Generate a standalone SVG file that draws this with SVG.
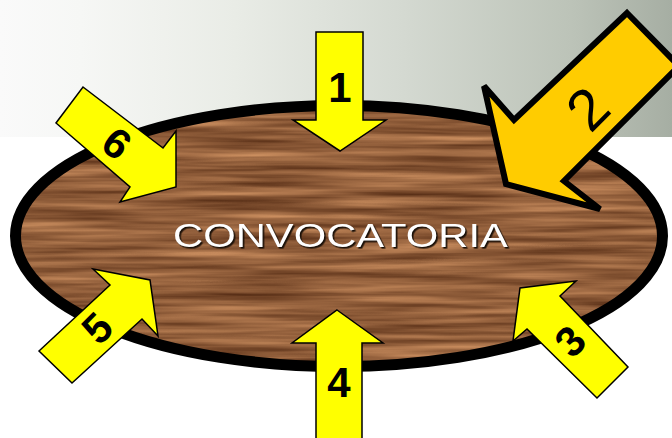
<svg xmlns="http://www.w3.org/2000/svg" width="672" height="438" viewBox="0 0 672 438">
  <defs>
    <linearGradient id="band" x1="0" y1="0" x2="1" y2="0">
      <stop offset="0" stop-color="#fafafa"/>
      <stop offset="0.12" stop-color="#f6f7f5"/>
      <stop offset="0.35" stop-color="#e9ece6"/>
      <stop offset="0.6" stop-color="#d4d9d1"/>
      <stop offset="0.85" stop-color="#bcc3b8"/>
      <stop offset="1" stop-color="#a6aea3"/>
    </linearGradient>
    <clipPath id="ovalClip">
      <ellipse cx="339" cy="236" rx="324" ry="131"/>
    </clipPath>
    <filter id="wood" x="0" y="0" width="1" height="1" filterUnits="objectBoundingBox" color-interpolation-filters="sRGB">
      <feTurbulence type="fractalNoise" baseFrequency="0.006 0.14" numOctaves="3" seed="7" result="n"/>
      <feColorMatrix in="n" type="matrix" values="0.6 0 0 0 0.27  0.5 0 0 0 0.12  0.38 0 0 0 0.04  0 0 0 0 1"/>
    </filter>
    <filter id="tshadow" x="-5%" y="-20%" width="110%" height="140%" color-interpolation-filters="sRGB">
      <feDropShadow dx="1.6" dy="1.6" stdDeviation="0.5" flood-color="#1a1008" flood-opacity="1"/>
    </filter>
  </defs>
  <style>
    .arrow { fill: #ffff00; stroke: #000; stroke-width: 1.5; stroke-linejoin: miter; }
    .big { fill: #ffcc00; stroke: #000; stroke-width: 6; stroke-linejoin: miter; }
    .num { font-family: "Liberation Sans", Arial, sans-serif; font-weight: bold; font-size: 42px; fill: #000; text-anchor: middle; }
    .num2 { font-family: "Liberation Sans", Arial, sans-serif; font-size: 58px; fill: #000; text-anchor: middle; }
    .title { font-family: "Liberation Sans", Arial, sans-serif; font-size: 33px; text-anchor: start; }
  </style>

  <rect x="0" y="0" width="672" height="137" fill="url(#band)"/>

  <g id="oval">
    <g clip-path="url(#ovalClip)">
      <rect x="10" y="100" width="660" height="275" fill="#8a5a36"/>
      <rect x="10" y="100" width="660" height="275" filter="url(#wood)"/>
    </g>
    <ellipse cx="339" cy="236" rx="323.5" ry="130.5" fill="none" stroke="#000" stroke-width="11"/>
    <text class="title" x="173" y="247" fill="#ffffff" textLength="335" lengthAdjust="spacingAndGlyphs" filter="url(#tshadow)">CONVOCATORIA</text>
  </g>

  <g id="connectors">
    <g id="arrow1">
      <polygon class="arrow" points="316,32 363,32 363,120 386,120 340,151 293,120 316,120"/>
      <text class="num" x="340" y="102">1</text>
    </g>
    <g id="arrow2">
      <polygon class="big" points="627,13 679,66 564,181 600,209 506,184 484,86 514,120"/>
      <text class="num2" transform="translate(587,108) rotate(-45)" x="0" y="21">2</text>
    </g>
    <g id="arrow3">
      <polygon class="arrow" points="628,367 560,296 576,281 520,288 513,341 527,329 597,398"/>
      <text class="num" transform="translate(570,341) rotate(-45)" x="0" y="15">3</text>
    </g>
    <g id="arrow4">
      <polygon class="arrow" points="337,310 383,343 362,343 362,445 316,445 316,343 292,343"/>
      <text class="num" x="339" y="397">4</text>
    </g>
    <g id="arrow5">
      <polygon class="arrow" points="39,351 110,285 93,269 150,280 158,336 142,319 72,383"/>
      <text class="num" transform="translate(97,328) rotate(-45)" x="0" y="15">5</text>
    </g>
    <g id="arrow6">
      <polygon class="arrow" points="83,87 163,148 176,131 176,187 120,202 130,187 56,123"/>
      <text class="num" transform="translate(117,143) rotate(37)" x="0" y="15">6</text>
    </g>
  </g>
</svg>
